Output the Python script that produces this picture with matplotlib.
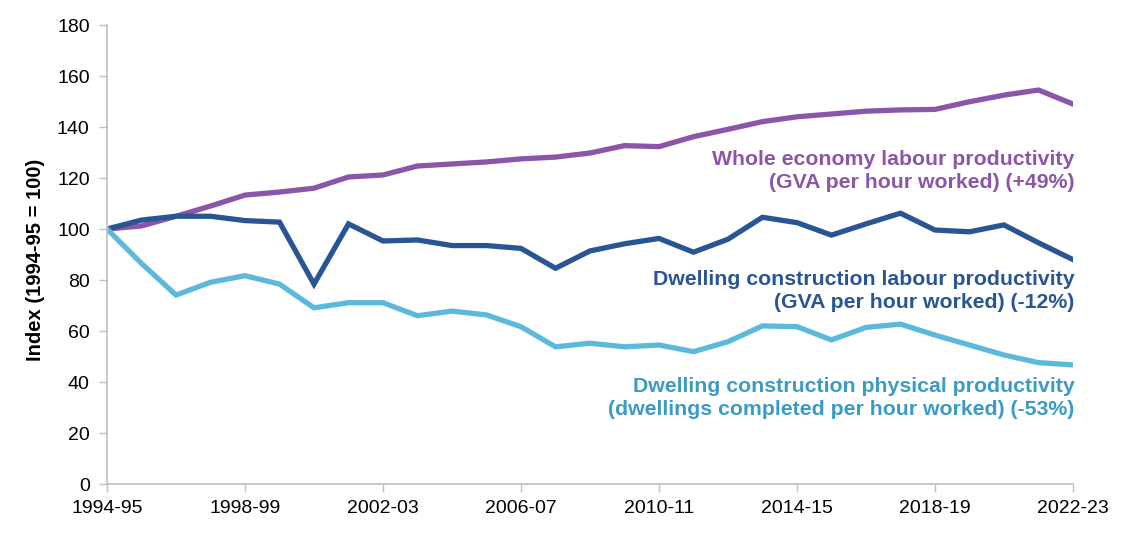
import matplotlib
matplotlib.use("Agg")
import matplotlib.pyplot as plt
import numpy as np

years = [f"{y}-{str(y+1)[-2:]}" for y in range(1994, 2023)]
whole_economy = [100, 101.2, 105, 109, 113.3, 114.5, 116, 120.4, 121.2, 124.7, 125.5, 126.3,
                 127.5, 128.2, 129.8, 132.7, 132.3, 136.2, 139.1, 142.1, 144, 145.1, 146.2,
                 146.7, 146.9, 149.9, 152.5, 154.5, 149]
dwelling_labour = [100, 103.5, 105, 105, 103.3, 102.7, 78.4, 102, 95.3, 95.7, 93.5, 93.5,
                   92.4, 84.6, 91.4, 94.2, 96.3, 90.9, 96, 104.6, 102.5, 97.6, 102, 106.2,
                   99.6, 98.9, 101.6, 94.6, 88]
dwelling_physical = [100, 86.5, 74.1, 79.1, 81.7, 78.4, 69.1, 71.1, 71.1, 66, 67.8, 66.3,
                     61.7, 53.8, 55.2, 53.8, 54.5, 51.9, 55.8, 62, 61.7, 56.5, 61.4, 62.7,
                     58.4, 54.5, 50.6, 47.6, 46.7]
tick_labels = years[::4]

plt.rcParams['font.family'] = ['Liberation Sans', 'DejaVu Sans']

fig = plt.figure(figsize=(11.36, 5.4), dpi=100)
ax = fig.add_axes([0.0942, 0.1037, 0.8503, 0.85])

x = np.arange(len(years))
c_purple = '#8B56A8'
c_dark = '#2A5595'
c_light = '#5DB9DB'
c_light_text = '#3B9BC7'

ax.plot(x, whole_economy, color=c_purple, lw=3.8, solid_joinstyle='miter')
ax.plot(x, dwelling_labour, color=c_dark, lw=3.8, solid_joinstyle='miter')
ax.plot(x, dwelling_physical, color=c_light, lw=3.8, solid_joinstyle='miter')

ax.set_xlim(0, len(years) - 1)
ax.set_ylim(0, 180)
ax.set_yticks(range(0, 181, 20))
ax.set_xticks(x[::4])
ax.set_xticklabels(tick_labels)
ax.tick_params(axis='both', labelsize=14, color='#BFBFBF', length=5.5, width=1)
ax.tick_params(axis='y', pad=7)
ax.tick_params(axis='x', pad=6)

for s in ['top', 'right']:
    ax.spines[s].set_visible(False)
for s in ['left', 'bottom']:
    ax.spines[s].set_color('#BFBFBF')
    ax.spines[s].set_linewidth(1.2)

ax.set_ylabel('Index (1994-95 = 100)', fontsize=14.5, fontweight='bold')
ax.yaxis.set_label_coords(-0.064, 0.488)

xe = len(years) - 1 + 0.05
ax.text(xe, 122.7, 'Whole economy labour productivity\n(GVA per hour worked) (+49%)',
        ha='right', va='center', multialignment='right', color=c_purple,
        fontsize=15.3, fontweight='bold', linespacing=1.22)
ax.text(xe, 75.7, 'Dwelling construction labour productivity\n(GVA per hour worked) (-12%)',
        ha='right', va='center', multialignment='right', color=c_dark,
        fontsize=15.3, fontweight='bold', linespacing=1.22)
ax.text(xe, 33.7, 'Dwelling construction physical productivity\n(dwellings completed per hour worked) (-53%)',
        ha='right', va='center', multialignment='right', color=c_light_text,
        fontsize=15.3, fontweight='bold', linespacing=1.22)

fig.savefig('out.png', dpi=100)
